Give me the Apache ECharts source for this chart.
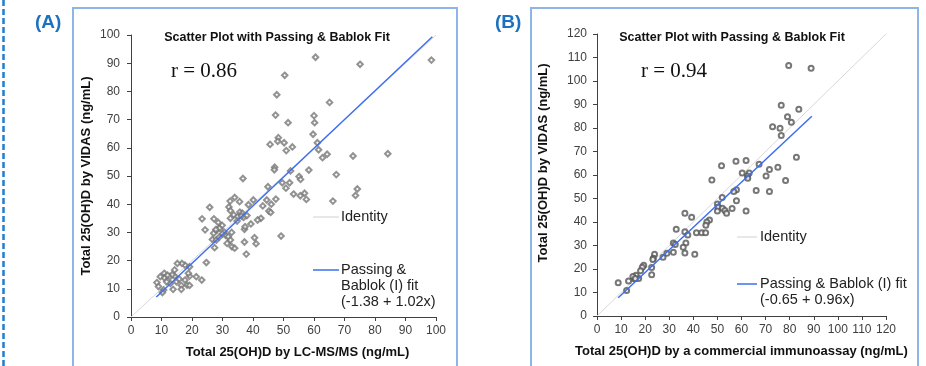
<!DOCTYPE html>
<html>
<head>
<meta charset="utf-8">
<script src="https://cdn.jsdelivr.net/npm/echarts@6/dist/echarts.min.js"></script>
<style>
  html, body { margin: 0; padding: 0; background: #fff; }
  #chart { width: 926px; height: 366px; }
</style>
</head>
<body>
<div id="chart"></div>
<script>
  // panel A: LC-MS/MS (x) vs VIDAS (y)
  var lcmsX = [60.5, 75.1, 98.5, 50.4, 47.8, 65.1, 47.4, 60.0, 51.5, 60.2, 59.7, 48.3, 48.1, 45.6, 50.2, 52.9, 50.9, 61.1, 61.5, 64.3,
    62.8, 72.8, 84.2, 47.1, 47.0, 52.3, 58.3, 67.3, 55.1, 55.6, 49.6, 52.0, 50.8, 53.3, 56.9, 55.5, 57.5, 66.2, 74.2, 73.6,
    49.2, 44.9, 36.7, 47.5, 44.5, 40.1, 38.5, 43.2, 46.0, 45.2, 45.8, 42.6, 41.5, 39.3, 37.2, 37.4, 40.5, 41.0, 37.2, 37.8,
    34.0, 35.6, 32.5, 32.1, 25.8, 23.3, 24.3, 27.2, 28.6, 32.6, 33.7, 35.0, 35.7, 36.5, 36.9, 32.6, 29.9, 28.2, 27.1, 26.7,
    28.0, 28.9, 31.0, 31.9, 32.6, 31.5, 33.1, 34.0, 27.4, 24.7, 23.2, 21.4, 19.2, 19.2, 17.7, 16.7, 15.2, 14.3, 14.3, 14.9,
    16.5, 16.5, 17.7, 18.4, 19.2, 10.9, 10.9, 9.6, 8.5, 9.0, 10.7, 12.7, 12.9, 13.8, 11.7, 10.3, 30.5, 34.8, 29.0, 36.2,
    38.0, 30.0, 33.0, 27.8, 13.5, 15.8, 12.0, 18.8];
  var vidasA = [92.1, 89.6, 91.1, 85.7, 78.8, 76.1, 71.6, 71.4, 68.9, 68.9, 64.8, 63.6, 62.3, 61.2, 61.8, 60.3, 59.0, 61.8, 59.3, 57.7,
    56.5, 57.1, 57.9, 53.1, 52.2, 51.8, 52.1, 50.5, 49.8, 48.8, 47.6, 47.6, 45.7, 43.6, 43.9, 43.0, 41.7, 41.1, 45.4, 43.1,
    28.7, 46.2, 49.1, 41.8, 41.5, 41.5, 39.8, 39.4, 40.0, 37.6, 37.1, 35.0, 34.4, 33.0, 31.1, 32.0, 28.1, 26.0, 26.6, 22.3,
    42.4, 40.9, 41.1, 39.0, 38.9, 34.8, 30.9, 34.8, 33.5, 37.7, 36.2, 35.6, 37.2, 36.8, 35.3, 35.0, 32.5, 30.9, 29.7, 27.5,
    27.3, 28.3, 29.0, 28.5, 27.3, 26.1, 24.9, 24.4, 24.6, 19.3, 13.1, 14.3, 14.5, 17.8, 18.4, 19.0, 19.0, 16.7, 14.5, 12.5,
    11.2, 9.8, 13.1, 11.3, 11.2, 15.5, 13.9, 14.3, 12.2, 10.8, 9.6, 14.3, 11.9, 9.8, 12.5, 8.7, 30.2, 34.0, 31.5, 35.8,
    36.0, 29.5, 30.0, 31.0, 15.0, 13.5, 14.8, 15.5];

  // panel B: commercial immunoassay (x) vs VIDAS (y)
  var immunoX = [79.6, 88.9, 76.5, 83.8, 79.1, 80.7, 72.9, 76.0, 76.5, 82.8, 67.3, 75.1, 71.6, 70.2, 78.3, 71.6, 66.1, 61.9, 57.7, 51.7,
    60.3, 63.2, 62.5, 62.6, 47.7, 57.9, 56.8, 52.0, 57.9, 50.0, 50.3, 52.1, 53.1, 53.8, 56.1, 61.9, 50.0, 46.7, 45.6, 45.2,
    36.5, 39.3, 36.5, 37.7, 41.3, 43.5, 45.1, 32.9, 31.7, 32.5, 36.9, 35.8, 31.7, 36.5, 40.6, 29.0, 27.4, 23.9, 23.4, 23.2,
    22.7, 22.7, 19.4, 18.8, 18.1, 17.3, 16.2, 15.5, 14.9, 15.9, 13.1, 8.8, 12.3];
  var vidasB = [106.6, 105.4, 89.7, 88.0, 84.8, 82.5, 80.5, 79.9, 76.8, 67.6, 64.6, 63.3, 62.3, 59.6, 57.7, 53.0, 53.4, 66.2, 65.9, 63.9,
    60.9, 60.9, 59.6, 58.6, 57.9, 53.7, 53.0, 50.4, 49.0, 47.7, 46.3, 45.9, 44.9, 43.7, 45.7, 44.7, 44.7, 40.8, 40.0, 38.6,
    43.7, 42.0, 35.9, 34.5, 35.4, 35.4, 35.4, 36.9, 31.1, 30.4, 31.1, 29.3, 27.1, 26.8, 26.3, 26.7, 25.0, 26.3, 24.6, 24.0,
    20.6, 17.6, 21.6, 20.7, 19.3, 16.0, 17.3, 15.9, 16.8, 16.0, 14.9, 14.2, 10.9];

  // Passing & Bablok fits: [intercept, slope], x range
  var fitA = [-1.38, 1.02];
  var fitRangeA = [8.3, 98.8];
  var fitB = [-0.65, 0.96];
  var fitRangeB = [8.8, 89.2];
  var identityA = [0, 100];
  var identityB = [0, 120];

  var ticksA = [0, 100, 10];
  var ticksB = [0, 120, 10];

  function zip (xs, ys) {
    var out = [];
    for (var i = 0; i < xs.length; i++) out.push([xs[i], ys[i]]);
    return out;
  }
  function fitLine (fit, range) {
    return range.map(function (x) { return [x, fit[0] + fit[1] * x]; });
  }

  var font = '"Liberation Sans", Arial, sans-serif';
  var axisColor = '#404040';
  var blue = '#3d6ef2';

  function valueAxis (ticks, gridIndex, name, nameGap, pad, labelMargin) {
    return {
      type: 'value', gridIndex: gridIndex,
      min: ticks[0], max: ticks[1], interval: ticks[2],
      name: name, nameLocation: 'middle', nameGap: nameGap,
      nameTextStyle: { fontFamily: font, fontWeight: 'bold', fontSize: 13, color: '#111', padding: pad },
      axisLine: { show: true, lineStyle: { color: axisColor, width: 1 } },
      axisTick: { show: true, length: 4, lineStyle: { color: axisColor } },
      axisLabel: { fontFamily: font, fontSize: 12, color: '#404040', margin: labelMargin },
      splitLine: { show: false }
    };
  }

  var myChart = echarts.init(document.getElementById('chart'));
  myChart.setOption({
    animation: false,
    grid: [
      { left: 131, top: 35, width: 305, height: 282 },
      { left: 597, top: 34, width: 289, height: 282 }
    ],
    xAxis: [
      valueAxis(ticksA, 0, 'Total 25(OH)D by LC-MS/MS (ng/mL)', 29, [0, 0, 0, 28], 8),
      valueAxis(ticksB, 1, 'Total 25(OH)D by a commercial immunoassay (ng/mL)', 29, [0, 0, 0, 0], 8)
    ],
    yAxis: [
      valueAxis(ticksA, 0, 'Total 25(OH)D by VIDAS (ng/mL)', 38, [0, 0, 0, 0], 11),
      valueAxis(ticksB, 1, 'Total 25(OH)D by VIDAS (ng/mL)', 47, [0, 0, 0, 24], 10)
    ],
    title: [
      { text: 'Scatter Plot with Passing & Bablok Fit', left: 272, top: 26, textAlign: 'center',
        textStyle: { fontFamily: font, fontWeight: 'bold', fontSize: 12.5, color: '#111' } },
      { text: 'Scatter Plot with Passing & Bablok Fit', left: 727, top: 26, textAlign: 'center',
        textStyle: { fontFamily: font, fontWeight: 'bold', fontSize: 12.5, color: '#111' } }
    ],
    graphic: [
      // dashed margin line and panel frames
      { type: 'line', shape: { x1: 3.5, y1: 0, x2: 3.5, y2: 366 },
        style: { stroke: '#1f7fd0', lineWidth: 2.5, lineDash: [6, 3] } },
      { type: 'rect', shape: { x: 73, y: 8, width: 384, height: 370 },
        style: { fill: 'none', stroke: '#8db5e6', lineWidth: 2 } },
      { type: 'rect', shape: { x: 531, y: 8, width: 387, height: 370 },
        style: { fill: 'none', stroke: '#8db5e6', lineWidth: 2 } },
      { type: 'text', left: 35, top: 13, style: { text: '(A)', font: 'bold 19px ' + font, fill: '#1a72c0' } },
      { type: 'text', left: 495, top: 13, style: { text: '(B)', font: 'bold 19px ' + font, fill: '#1a72c0' } },
      { type: 'text', left: 171, top: 61, style: { text: 'r = 0.86', font: '21px "Liberation Serif", "Times New Roman", serif', fill: '#111' } },
      { type: 'text', left: 641, top: 61, style: { text: 'r = 0.94', font: '21px "Liberation Serif", "Times New Roman", serif', fill: '#111' } },
      // legend A
      { type: 'line', shape: { x1: 313, y1: 217, x2: 339, y2: 217 }, style: { stroke: '#d0d0d0', lineWidth: 1 } },
      { type: 'text', x: 341, y: 217, style: { text: 'Identity', font: '14.5px ' + font, fill: '#222', verticalAlign: 'middle' } },
      { type: 'line', shape: { x1: 313, y1: 270, x2: 339, y2: 270 }, style: { stroke: blue, lineWidth: 1.5 } },
      { type: 'text', x: 341, y: 262, style: { text: 'Passing &\nBablok (I) fit\n(-1.38 + 1.02x)', font: '14.5px ' + font, fill: '#222', lineHeight: 16 } },
      // legend B
      { type: 'line', shape: { x1: 737, y1: 237, x2: 757, y2: 237 }, style: { stroke: '#d0d0d0', lineWidth: 1 } },
      { type: 'text', x: 760, y: 237, style: { text: 'Identity', font: '14.5px ' + font, fill: '#222', verticalAlign: 'middle' } },
      { type: 'line', shape: { x1: 737, y1: 284, x2: 757, y2: 284 }, style: { stroke: blue, lineWidth: 1.5 } },
      { type: 'text', x: 760, y: 276, style: { text: 'Passing & Bablok (I) fit\n(-0.65 + 0.96x)', font: '14.5px ' + font, fill: '#222', lineHeight: 16 } }
    ],
    series: [
      { name: 'Identity', type: 'line', xAxisIndex: 0, yAxisIndex: 0, data: zip(identityA, identityA),
        symbol: 'none', lineStyle: { color: '#d8d8d8', width: 1 }, z: 1 },
      { name: 'VIDAS vs LC-MS/MS', type: 'scatter', xAxisIndex: 0, yAxisIndex: 0, data: zip(lcmsX, vidasA),
        symbol: 'emptyDiamond', symbolSize: 5.5, itemStyle: { color: '#777', borderWidth: 0.7 }, z: 2 },
      { name: 'Passing & Bablok A', type: 'line', xAxisIndex: 0, yAxisIndex: 0, data: fitLine(fitA, fitRangeA),
        symbol: 'none', lineStyle: { color: blue, width: 1.5 }, z: 3 },
      { name: 'Identity', type: 'line', xAxisIndex: 1, yAxisIndex: 1, data: zip(identityB, identityB),
        symbol: 'none', lineStyle: { color: '#d8d8d8', width: 1 }, z: 1 },
      { name: 'VIDAS vs immunoassay', type: 'scatter', xAxisIndex: 1, yAxisIndex: 1, data: zip(immunoX, vidasB),
        symbol: 'emptyCircle', symbolSize: 5, itemStyle: { color: '#555', borderWidth: 0.7 }, z: 2 },
      { name: 'Passing & Bablok B', type: 'line', xAxisIndex: 1, yAxisIndex: 1, data: fitLine(fitB, fitRangeB),
        symbol: 'none', lineStyle: { color: blue, width: 1.5 }, z: 3 }
    ]
  });
</script>
</body>
</html>
